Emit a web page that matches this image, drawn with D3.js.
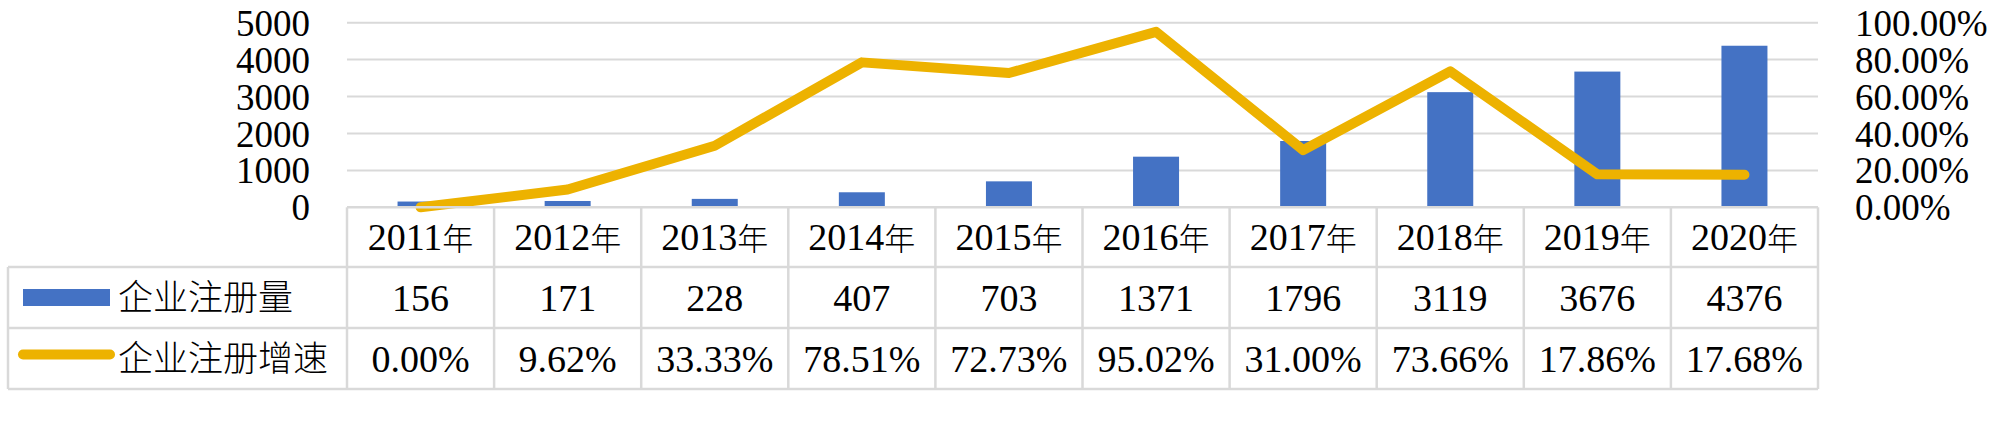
<!DOCTYPE html>
<html>
<head>
<meta charset="utf-8">
<script src="https://cdn.jsdelivr.net/npm/d3@7"></script>
<style>
  html, body { margin: 0; padding: 0; background: #fff; }
  svg { display: block; }
</style>
</head>
<body>
<div class="chart"></div>
<script>
// data
const years = ["2011", "2012", "2013", "2014", "2015", "2016", "2017", "2018", "2019", "2020"]
const registrations = [156, 171, 228, 407, 703, 1371, 1796, 3119, 3676, 4376]
const growth = [0.0, 9.62, 33.33, 78.51, 72.73, 95.02, 31.00, 73.66, 17.86, 17.68]
const leftTicks = [0, 1000, 2000, 3000, 4000, 5000]
const rightTicks = [0, 20, 40, 60, 80, 100]
const seriesNames = ["企业注册量", "企业注册增速"]

const width = 2000, height = 441
const barColor = "#4472c4", lineColor = "#edb200", gridColor = "#d9d9d9"
const serif = "'Liberation Serif'"
const cjk = "'Noto Sans CJK SC'"

const plot = { left: 347, right: 1818, top: 22.7, bottom: 207.3 }
const rows = [207.3, 267, 328, 389]
const tableLeft = 8

let svg = d3.select(".chart")
.append("svg")
.attr("width", width)
.attr("height", height)

let x = d3.scaleBand()
.domain(years)
.range([plot.left, plot.right])

let y = d3.scaleLinear()
.domain([0, 5000])
.range([plot.bottom, plot.top])

let y2 = d3.scaleLinear()
.domain([0, 100])
.range([plot.bottom, plot.top])

// gridlines
svg.append("g")
.selectAll("line")
.data(leftTicks.filter(d => d > 0))
.enter()
.append("line")
.attr("x1", plot.left)
.attr("x2", plot.right)
.attr("y1", d => y(d))
.attr("y2", d => y(d))
.style("stroke", gridColor)
.style("stroke-width", 2)

// axes
svg.append("g")
.attr("transform", `translate(${plot.left},0)`)
.call(d3.axisLeft(y).tickValues(leftTicks).tickSize(0).tickPadding(37).tickFormat(d3.format("d")))

svg.append("g")
.attr("transform", `translate(${plot.right},0)`)
.call(d3.axisRight(y2).tickValues(rightTicks).tickSize(0).tickPadding(37).tickFormat(d => d.toFixed(2) + "%"))

svg.selectAll(".domain").remove()
svg.selectAll(".tick text")
.style("font-family", serif)
.style("font-size", "37px")
.style("fill", "#000")
.attr("dy", "0.34em")

// bars
let barW = 46
svg.append("g")
.selectAll("rect")
.data(registrations)
.enter()
.append("rect")
.attr("x", (d, i) => x(years[i]) + x.bandwidth() / 2 - barW / 2)
.attr("y", d => y(d))
.attr("width", barW)
.attr("height", d => plot.bottom - y(d))
.style("fill", barColor)

// growth line
let line = d3.line()
.x((d, i) => x(years[i]) + x.bandwidth() / 2)
.y(d => y2(d))

svg.append("path")
.datum(growth)
.attr("d", line)
.style("fill", "none")
.style("stroke", lineColor)
.style("stroke-width", 10)
.style("stroke-linecap", "round")
.style("stroke-linejoin", "round")

// data table
let table = svg.append("g")
.style("stroke", gridColor)
.style("stroke-width", 2.5)

table.append("line")
.attr("x1", plot.left).attr("x2", plot.right)
.attr("y1", rows[0]).attr("y2", rows[0])

rows.slice(1).forEach(r => {
  table.append("line")
  .attr("x1", tableLeft).attr("x2", plot.right)
  .attr("y1", r).attr("y2", r)
})

years.forEach(yr => {
  table.append("line")
  .attr("x1", x(yr)).attr("x2", x(yr))
  .attr("y1", rows[0]).attr("y2", rows[3])
})

table.append("line")
.attr("x1", plot.right).attr("x2", plot.right)
.attr("y1", rows[0]).attr("y2", rows[3])

table.append("line")
.attr("x1", tableLeft).attr("x2", tableLeft)
.attr("y1", rows[1]).attr("y2", rows[3])

let mid = i => (rows[i] + rows[i + 1]) / 2

// header
let header = svg.append("g")
.selectAll("text")
.data(years)
.enter()
.append("text")
.attr("x", d => x(d) + x.bandwidth() / 2)
.attr("y", mid(0))
.attr("dy", "0.35em")
.attr("text-anchor", "middle")
.style("font-size", "38px")

header.append("tspan")
.style("font-family", serif)
.text(d => d)
header.append("tspan")
.style("font-family", cjk)
.style("font-weight", 300)
.style("font-size", "31px")
.text("年")

svg.append("g")
.selectAll("text")
.data(registrations)
.enter()
.append("text")
.attr("x", (d, i) => x(years[i]) + x.bandwidth() / 2)
.attr("y", mid(1))
.attr("dy", "0.35em")
.attr("text-anchor", "middle")
.style("font-family", serif)
.style("font-size", "38px")
.text(d => d)

svg.append("g")
.selectAll("text")
.data(growth)
.enter()
.append("text")
.attr("x", (d, i) => x(years[i]) + x.bandwidth() / 2)
.attr("y", mid(2))
.attr("dy", "0.35em")
.attr("text-anchor", "middle")
.style("font-family", serif)
.style("font-size", "38px")
.text(d => d.toFixed(2) + "%")

// legend keys in the table
svg.append("rect")
.attr("x", 23)
.attr("y", mid(1) - 8.5)
.attr("width", 87)
.attr("height", 17)
.style("fill", barColor)

svg.append("line")
.attr("x1", 23).attr("x2", 110)
.attr("y1", mid(2) - 4).attr("y2", mid(2) - 4)
.style("stroke", lineColor)
.style("stroke-width", 10)
.style("stroke-linecap", "round")

seriesNames.forEach((name, i) => {
  svg.append("text")
  .attr("x", 118)
  .attr("y", mid(i + 1))
  .attr("dy", "0.36em")
  .style("font-family", cjk)
  .style("font-size", "35px")
  .style("font-weight", 300)
  .text(name)
})
</script>
</body>
</html>
